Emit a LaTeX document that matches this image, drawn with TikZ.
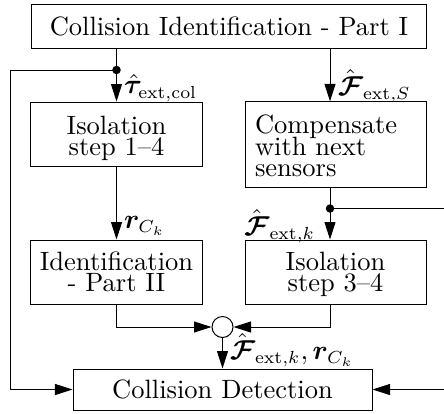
\documentclass[tikz,border=0pt]{standalone}
\usepackage{amsmath}
\usepackage{bm}
\usetikzlibrary{arrows.meta,calc}
% invisible strut that sets the height of a block's first line
\newcommand\boxstrut[1]{\rule{0pt}{#1}}
% block font with a fixed baseline distance
\newcommand\blockfont{\fontsize{10.6}{8.6}\selectfont\lineskiplimit=-100pt\relax}
\begin{document}
\begin{tikzpicture}[x=0.4pt,y=-0.4pt,
  every node/.style={font=\blockfont},
  blk/.style={draw,line width=0.4pt,inner sep=0pt,align=center},
  arr/.style={-{Triangle[length=7pt,width=4.4pt]}},
  wire/.style={line width=0.4pt},
  junc/.style={circle,fill,inner sep=0pt,minimum size=3.4pt},
  lbl/.style={inner sep=1pt}]
\useasboundingbox (0,0) rectangle (444,413);

% blocks
\node[blk,minimum width=157.6pt,minimum height=17.2pt] (top) at (229,26.5) {Collision Identification - Part I};
\node[blk,minimum width=68.4pt,minimum height=25.6pt] (iso1) at (116.5,134) {\boxstrut{10.66pt}Isolation\\step 1--4};
\node[blk,minimum width=72.4pt,minimum height=34pt,text width=64.4pt,inner sep=4pt,align=left] (comp) at (335.5,144.5) {\boxstrut{8.8pt}Compensate\\with next\\sensors};
\node[blk,minimum width=68.4pt,minimum height=25.6pt] (ident) at (116.5,272) {Identification\\- Part II};
\node[blk,minimum width=72.4pt,minimum height=25.6pt] (iso34) at (335.5,272) {\boxstrut{9.06pt}Isolation\\step 3--4};
\node[draw,circle,inner sep=0pt,minimum size=8.4pt] (sum) at (222.5,327) {};
\node[blk,minimum width=119.6pt,minimum height=16.4pt] (det) at (222.5,389.5) {Collision Detection};

% branch points and return paths
\coordinate (d1) at (116.5,70);
\coordinate (d2) at (330,208.5);
\coordinate (L1) at (10,70);
\coordinate (R1) at (470,208.5);
\coordinate (c1) at (330,48);

% signal flow
\draw[wire,arr] (iso1.north |- top.south) -- (iso1.north);
\draw[wire,arr] (c1) -- (comp.north -| c1);
\draw[wire,arr] (iso1.south) -- (ident.north);
\draw[wire,arr] (comp.south -| d2) -- (iso34.north -| d2);
\draw[wire,arr] (ident.south) |- (sum.west);
\draw[wire,arr] (iso34.south -| d2) |- (sum.east);
\draw[wire,arr] (sum.south) -- (det.north);
\draw[wire,arr] (d1) -- (L1) |- (det.west);
\draw[wire,arr] (d2) -- (R1) |- (det.east);
\node[junc] at (d1) {};
\node[junc] at (d2) {};

% signal labels
\node[lbl,anchor=west] at (121,88) {$\hat{\bm{\tau}}_{\mathrm{ext,col}}$};
\node[lbl,anchor=west] at (335,86) {$\hat{\bm{\mathcal{F}}}_{\mathrm{ext},S}$};
\node[lbl,anchor=west] at (121,226) {$\bm{r}_{C_k}$};
\node[lbl,anchor=east] at (318,226) {$\hat{\bm{\mathcal{F}}}_{\mathrm{ext},k}$};
\node[lbl,anchor=west] at (227,350) {$\hat{\bm{\mathcal{F}}}_{\mathrm{ext},k}, \bm{r}_{C_k}$};
\end{tikzpicture}
\end{document}
